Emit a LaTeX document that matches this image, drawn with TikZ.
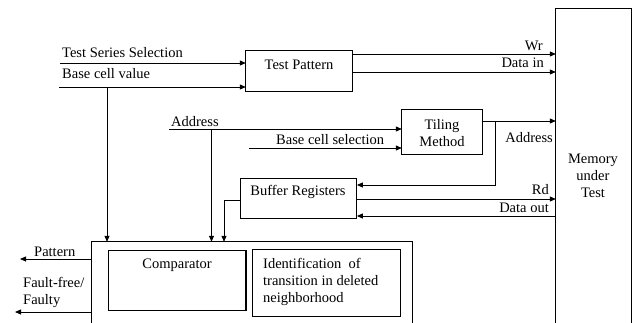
\documentclass[tikz,border=0pt]{standalone}
\usepackage{fontspec}
\setmainfont{Liberation Serif}
\usetikzlibrary{arrows.meta,calc}
\begin{document}
\begin{tikzpicture}[x=1pt,y=-1pt,
  font=\fontsize{14.5}{17}\selectfont,
  box/.style={draw,line width=1.1pt,inner sep=0pt},
  txt/.style={inner sep=0pt},
  ln/.style={line width=0.8pt},
  arr/.style={ln,-{Triangle[length=6pt,width=5pt]}}]
\useasboundingbox (0,0) rectangle (635,322);
\clip (0,0) rectangle (635,322);
% boxes
\node[inner sep=0pt,minimum width=106pt,minimum height=40pt] (tp) at (299,71) {};
\draw[box] (tp.north west) rectangle (tp.south east);
\node[txt,anchor=base] (tpt) at (299,69) {Test Pattern};

\node[inner sep=0pt,minimum width=80pt,minimum height=44pt] (tm) at (442,132) {};
\draw[box] (tm.north west) rectangle (tm.south east);
\node[txt,align=center,anchor=base] (tmt) at (442,146) {Tiling\\Method};

\node[inner sep=0pt,minimum width=116pt,minimum height=40pt] (br) at (298.7,198.3) {};
\draw[box] (br.north west) rectangle (br.south east);
\node[txt,anchor=base] (brt) at (298,195) {Buffer Registers};

\node[inner sep=0pt,minimum width=75pt,minimum height=330pt] (mem) at (593.5,174) {};
\draw[box] (mem.north west) rectangle (mem.south east);
\node[txt,align=center,anchor=base] (memt) at (593,197) {Memory\\under\\Test};

\node[inner sep=0pt,minimum width=320pt,minimum height=100pt] (out) at (252,292) {};
\draw[box] (out.north west) rectangle (out.south east);

\node[inner sep=0pt,minimum width=137pt,minimum height=59pt] (cmp) at (177.3,280.5) {};
\draw[box] (cmp.north west) rectangle (cmp.south east);
\node[txt,anchor=base] (cmpt) at (177,268.5) {Comparator};

\node[inner sep=0pt,minimum width=147pt,minimum height=66pt] (idf) at (326.5,283) {};
\draw[box] (idf.north west) rectangle (idf.south east);
\node[txt,align=left,anchor=base west] (idft) at (263,302) {Identification~ of\\transition in deleted\\neighborhood};

% inputs to Test Pattern
\coordinate (tss) at (60,63);
\coordinate (bcv) at (59,87);
\draw[arr] (tss) -- (tss -| tp.west);
\draw[arr] (bcv) -- (bcv -| tp.west);
\node[txt,anchor=base west] (tsst) at (62,57) {Test Series Selection};
\node[txt,anchor=base west] (bcvt) at (62,78) {Base cell value};
\coordinate (bcvd) at (107,87);
\draw[arr] (bcvd) -- (bcvd |- out.north);

% Test Pattern to memory
\coordinate (wr) at (352,54);
\coordinate (di) at (352,72);
\draw[arr] (wr) -- (wr -| mem.west);
\draw[arr] (di) -- (di -| mem.west);
\node[txt,anchor=base east] (wrt) at (543,50.5) {Wr};
\node[txt,anchor=base east] (dit) at (544,67.5) {Data in};

% Tiling inputs
\coordinate (adr) at (169,129);
\coordinate (bcs) at (249,148);
\draw[arr] (adr) -- (adr -| tm.west);
\draw[arr] (bcs) -- (bcs -| tm.west);
\node[txt,anchor=base west] (adrt) at (171,126) {Address};
\node[txt,anchor=base west] (bcst) at (276,144) {Base cell selection};
\coordinate (adrd) at (211.5,129);
\draw[arr] (adrd) -- (adrd |- out.north);

% Tiling to memory and buffer
\coordinate (tmo) at (482,121);
\draw[arr] (tmo) -- (tmo -| mem.west);
\node[txt,anchor=base east] (adr2t) at (553,142.5) {Address};
\coordinate (tmb) at (495,121);
\coordinate (tmb2) at (495,185);
\draw[arr] (tmb) -- (tmb2) -- (tmb2 -| br.east);

% Buffer to memory
\coordinate (rd) at (356.7,199);
\draw[arr] (rd) -- (rd -| mem.west);
\node[txt,anchor=base east] (rdt) at (549,194) {Rd};
\coordinate (dout) at (556,216);
\draw[arr] (dout) -- (dout -| br.east);
\node[txt,anchor=base east] (doutt) at (549,212.5) {Data out};

% Buffer to outer box
\coordinate (bl) at (240.7,200);
\coordinate (bl2) at (224,200);
\draw[arr] (bl) -- (bl2) -- (bl2 |- out.north);

% outputs
\coordinate (pat) at (92,259);
\draw[arr] (pat) -- (20,259);
\node[txt,anchor=base west] (patt) at (34,256) {Pattern};
\coordinate (ff) at (92,312);
\draw[arr] (ff) -- (15,312);
\node[txt,align=left,anchor=base west] (fft) at (23,304) {Fault-free/\\Faulty};
\end{tikzpicture}
\end{document}
